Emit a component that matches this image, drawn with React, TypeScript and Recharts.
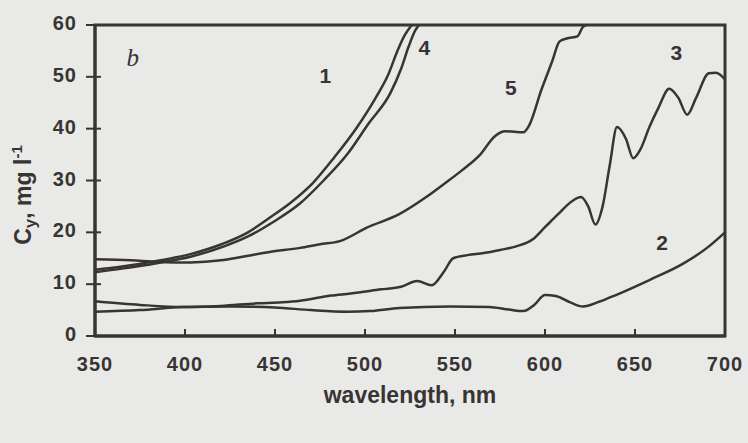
import React from 'react';
import { LineChart, Line, XAxis, YAxis, ReferenceArea, ReferenceDot } from 'recharts';

const INK = '#383434';
const SANS = '"Liberation Sans", Arial, sans-serif';

const wavelengthTicks = [350, 400, 450, 500, 550, 600, 650, 700];
const concTicks = [0, 10, 20, 30, 40, 50, 60];

const curve1Wl = [350, 365, 385, 403, 421, 435, 447, 459, 471, 483, 495, 506, 513, 518, 522, 526];
const curve1Val = [12.8, 13.4, 14.5, 15.8, 17.8, 20, 22.8, 25.8, 29.5, 34.5, 40, 46, 50.5, 55, 58, 60];

const curve4Wl = [350, 365, 385, 403, 421, 435, 449, 464, 477, 490, 502, 514, 520, 524, 528, 530];
const curve4Val = [12.3, 13, 14.1, 15.3, 17.2, 19.2, 22, 25.6, 30, 35, 41, 46.8, 51.5, 55.6, 59, 60];

const curve5Wl = [350, 370, 385, 403, 420, 432, 447, 464, 475, 486, 501, 519, 534, 543, 554, 564, 572, 578, 588, 591, 598, 604, 608, 612, 618, 621, 623];
const curve5Val = [14.8, 14.6, 14.3, 14.2, 14.6, 15.3, 16.2, 17, 17.7, 18.3, 20.9, 23.5, 26.8, 29.1, 32, 35, 38.5, 39.5, 39.3, 40.5, 47.5, 53, 56.8, 57.4, 57.8, 59.6, 60];

const curve3Wl = [350, 375, 399, 420, 440, 454, 464, 481, 492, 509, 520, 529, 537, 544, 549, 557, 566, 575, 584, 593, 600, 607, 615, 620, 624, 628, 632, 636, 640, 645, 649, 653, 658, 663, 669, 674, 679, 684, 691, 695, 700];
const curve3Val = [6.7, 6.0, 5.6, 5.8, 6.3, 6.5, 6.8, 7.8, 8.2, 9, 9.5, 10.6, 9.8, 12.5, 15, 15.6, 16, 16.6, 17.3, 18.6, 21, 23.4, 26, 26.8, 25, 21.5, 25, 33, 40.3, 38, 34.3, 36, 40.3, 44, 47.7, 46, 42.7, 46, 50.7, 50.8, 49.5];

const curve2Wl = [350, 375, 399, 425, 450, 470, 490, 503, 519, 547, 569, 580, 588, 594, 600, 606, 614, 621, 630, 640, 658, 677, 690, 700];
const curve2Val = [4.7, 5.0, 5.6, 5.7, 5.5, 5.0, 4.7, 4.8, 5.4, 5.7, 5.6, 5.1, 4.8, 6.0, 7.9, 7.7, 6.5, 5.7, 6.6, 8, 10.8, 14, 17, 20];

const curveNames = ['1', '4', '5', '3', '2'];
const labelWl = [478, 533, 581, 673, 665];
const labelVal = [50.3, 55.6, 47.9, 54.7, 18.1];

const panelLetter = 'b';
const panelWl = 371;
const panelVal = 53.8;

const toPoints = (wl: number[], val: number[]) => wl.map((x, i) => ({ x, y: val[i] }));

const series = [
  { name: '1', data: toPoints(curve1Wl, curve1Val) },
  { name: '4', data: toPoints(curve4Wl, curve4Val) },
  { name: '5', data: toPoints(curve5Wl, curve5Val) },
  { name: '3', data: toPoints(curve3Wl, curve3Val) },
  { name: '2', data: toPoints(curve2Wl, curve2Val) },
];

const XTick = (props: any) => {
  const { x, y, payload } = props;
  return (
    <g>
      <line x1={x} x2={x} y1={y - 7} y2={y + 1} stroke={INK} strokeWidth={2} />
      <text x={x} y={y + 35} textAnchor="middle" fontFamily={SANS} fontWeight="bold" fontSize={20} letterSpacing={1} fill={INK}>
        {payload.value}
      </text>
    </g>
  );
};

const YTick = (props: any) => {
  const { x, y, payload } = props;
  return (
    <g>
      <line x1={x - 9} x2={x + 6} y1={y} y2={y} stroke={INK} strokeWidth={2} />
      <text x={x - 18} y={y + 5} textAnchor="end" fontFamily={SANS} fontWeight="bold" fontSize={20} letterSpacing={1} fill={INK}>
        {payload.value}
      </text>
    </g>
  );
};

const yTitle = () => {
  const tx = 31;
  const ty = 195;
  return (
    <text x={tx} y={ty} transform={`rotate(-90 ${tx} ${ty})`} textAnchor="middle" fontFamily={SANS} fontWeight="bold" fontSize={23} fill={INK}>
      <tspan>C</tspan>
      <tspan fontSize={17} dy={5}>y</tspan>
      <tspan dy={-5}>, mg l</tspan>
      <tspan fontSize={15} dy={-9}>-1</tspan>
    </text>
  );
};

const xTitle = (props: any) => {
  const vb = props.viewBox || { x: 95, y: 366, width: 630, height: 77 };
  return (
    <text x={vb.x + vb.width / 2} y={vb.y + 67} textAnchor="middle" fontFamily={SANS} fontWeight="bold" fontSize={23} fill={INK}>
      wavelength, nm
    </text>
  );
};

export default function App() {
  return (
    <div style={{ position: 'absolute', left: 0, top: 0, width: 748, height: 443, background: '#e9e9e7' }}>
      <LineChart width={748} height={443} margin={{ top: 25, right: 23, bottom: 77, left: 0 }}>
        <XAxis
          type="number"
          dataKey="x"
          domain={[350, 700]}
          ticks={wavelengthTicks}
          tick={XTick}
          tickLine={false}
          tickSize={0}
          tickMargin={0}
          axisLine={{ stroke: INK, strokeWidth: 3 }}
          label={xTitle}
          allowDecimals={false}
        />
        <YAxis
          type="number"
          dataKey="y"
          domain={[0, 60]}
          ticks={concTicks}
          width={95}
          tick={YTick}
          tickLine={false}
          tickSize={0}
          tickMargin={0}
          axisLine={{ stroke: INK, strokeWidth: 3 }}
          label={yTitle}
        />
        <ReferenceArea x1={350} x2={700} y1={0} y2={60} fill="none" fillOpacity={0} stroke={INK} strokeWidth={3} />
        {series.map((s) => (
          <Line
            key={s.name}
            data={s.data}
            dataKey="y"
            type="monotone"
            stroke={INK}
            strokeWidth={2.5}
            dot={false}
            activeDot={false}
            isAnimationActive={false}
          />
        ))}
        {curveNames.map((n, i) => (
          <ReferenceDot
            key={'lbl' + n}
            x={labelWl[i]}
            y={labelVal[i]}
            r={0}
            fill="none"
            stroke="none"
            label={{ value: n, position: 'center', fill: INK, fontSize: 21, fontWeight: 'bold', fontFamily: SANS }}
          />
        ))}
        <ReferenceDot
          x={panelWl}
          y={panelVal}
          r={0}
          fill="none"
          stroke="none"
          label={{ value: panelLetter, position: 'center', fill: INK, fontSize: 25, fontStyle: 'italic', fontFamily: '"Liberation Serif", serif' }}
        />
      </LineChart>
    </div>
  );
}
